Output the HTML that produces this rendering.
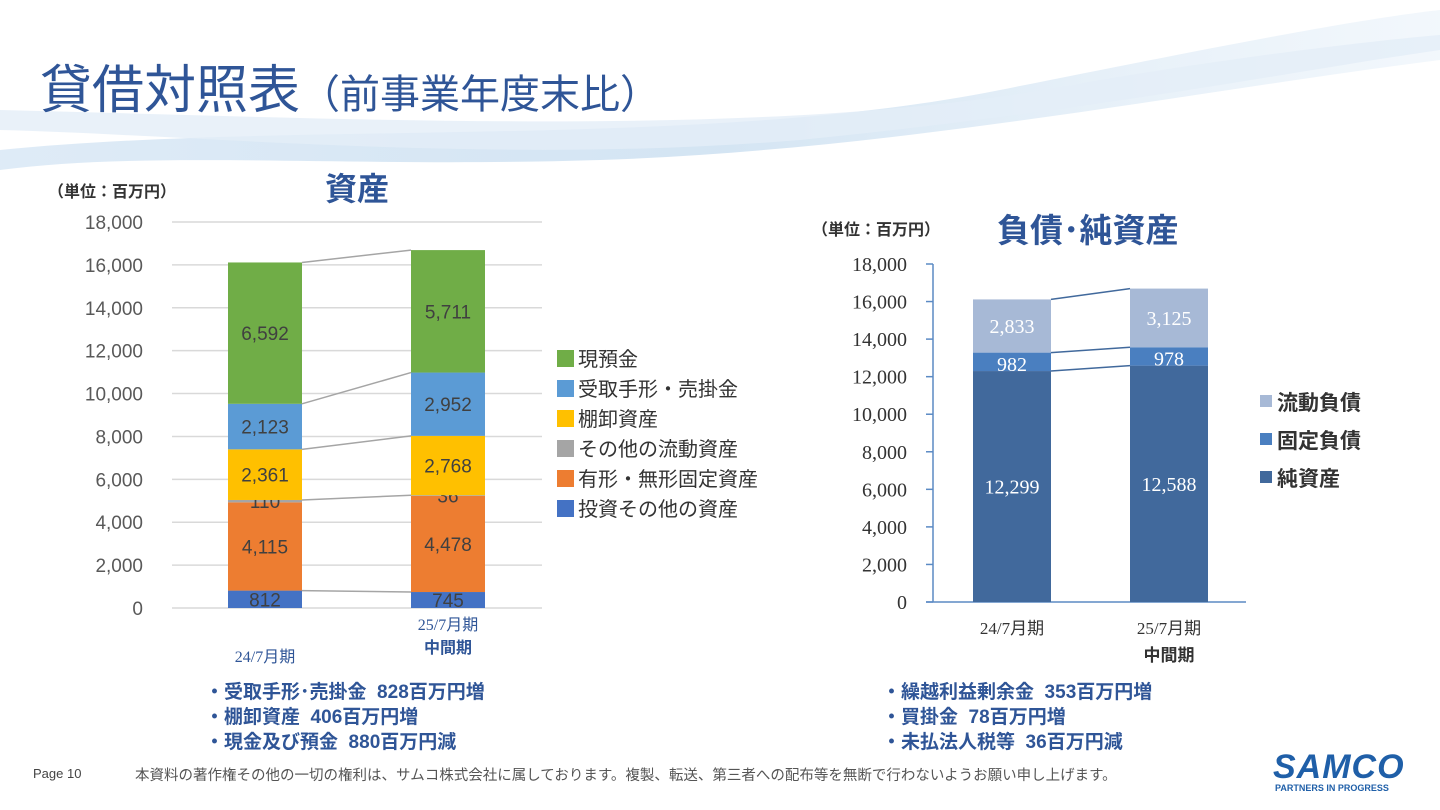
<!DOCTYPE html>
<html><head><meta charset="utf-8">
<style>
body{margin:0;width:1440px;height:810px;overflow:hidden;background:#fff;font-family:"Liberation Sans","Noto Sans CJK JP",sans-serif;position:relative}
.abs{position:absolute;white-space:nowrap}
.bul{color:#2f5597;font-weight:bold;font-size:19px;line-height:25px}
</style></head><body>
<svg class="abs" style="left:0;top:0" width="1440" height="180">
<defs><linearGradient id="sw" x1="0" y1="0" x2="1" y2="0"><stop offset="0" stop-color="#dbe9f6" stop-opacity="0.9"/><stop offset="0.5" stop-color="#c9def0" stop-opacity="0.8"/><stop offset="1" stop-color="#e6f0f9" stop-opacity="0.5"/></linearGradient></defs>
<path d="M0,150 C300,120 700,150 1000,90 C1200,50 1350,20 1440,10 L1440,60 C1200,90 900,150 600,160 C350,168 150,150 0,170 Z" fill="url(#sw)"/>
<path d="M0,110 C400,120 800,140 1100,80 C1250,55 1380,40 1440,35 L1440,50 C1300,70 1100,110 800,140 C500,165 200,135 0,130 Z" fill="#e3eef8" opacity="0.8"/>
</svg>
<div class="abs" style="left:40px;top:48px;font-size:52px;color:#2f5597">貸借対照表<span style="font-size:40px">（前事業年度末比）</span></div>
<svg id="ch" class="abs" style="left:0;top:0" width="1440" height="810"></svg>
<div class="abs bul" style="left:205px;top:680px">・受取手形･売掛金&nbsp; 828百万円増<br>・棚卸資産&nbsp; 406百万円増<br>・現金及び預金&nbsp; 880百万円減</div>
<div class="abs bul" style="left:882px;top:680px">・繰越利益剰余金&nbsp; 353百万円増<br>・買掛金&nbsp; 78百万円増<br>・未払法人税等&nbsp; 36百万円減</div>
<div class="abs" style="left:33px;top:766px;font-size:13px;color:#444">Page 10</div>
<div class="abs" style="left:135px;top:764px;font-size:14.5px;color:#555">本資料の著作権その他の一切の権利は、サムコ株式会社に属しております。複製、転送、第三者への配布等を無断で行わないようお願い申し上げます。</div>
<div class="abs" style="left:1273px;top:748px;font-size:34px;font-weight:bold;font-style:italic;color:#1f5fa8;letter-spacing:1px">SAMCO</div>
<div class="abs" style="left:1275px;top:783px;font-size:9px;font-weight:bold;color:#1f5fa8">PARTNERS IN PROGRESS</div>
<script>
const NS="http://www.w3.org/2000/svg";
const svg=document.getElementById('ch');
const leftCats=["24/7月期","25/7月期"];
const leftSeries=["投資その他の資産","有形・無形固定資産","その他の流動資産","棚卸資産","受取手形・売掛金","現預金"];
const leftColors=["#4472c4","#ed7d31","#a5a5a5","#ffc000","#5b9bd5","#70ad47"];
const leftP1=[812,4115,110,2361,2123,6592];
const leftP2=[745,4478,36,2768,2952,5711];
const rightSeries=["純資産","固定負債","流動負債"];
const rightColors=["#41699c","#4a7fc0","#a7b9d6"];
const rightP1=[12299,982,2833];
const rightP2=[12588,978,3125];
const ticks=[0,2000,4000,6000,8000,10000,12000,14000,16000,18000];
function el(t,a,txt){const e=document.createElementNS(NS,t);for(const k in a)e.setAttribute(k,a[k]);if(txt!==undefined)e.textContent=txt;svg.appendChild(e);return e;}
const fmt=v=>v.toLocaleString('en-US');
const LY=v=>608-v*(608-222)/18000;
ticks.forEach(t=>{
 const g=el('line',{x1:172,x2:542,y1:LY(t),y2:LY(t),stroke:'#d9d9d9','stroke-width':1.5});
 
 const l=el('text',{x:143,y:LY(t)+7,'text-anchor':'end','font-size':19,fill:'#595959'},fmt(t));
 
});
const lbx=[228,411],lbw=74;
[leftP1,leftP2].forEach((vals,i)=>{
 let c=0;
 vals.forEach((v,s)=>{
  const r=el('rect',{x:lbx[i],y:LY(c+v),width:lbw,height:LY(c)-LY(c+v),fill:leftColors[s]});
  
  const t=el('text',{x:lbx[i]+lbw/2,y:(LY(c)+LY(c+v))/2+7,'text-anchor':'middle','font-size':19,fill:'#404040'},fmt(v));
  
  c+=v;
 });
});
let c1=0,c2=0;
leftP1.forEach((v,s)=>{c1+=v;c2+=leftP2[s];
 if(s!==1){const l=el('line',{x1:lbx[0]+lbw,y1:LY(c1),x2:lbx[1],y2:LY(c2),stroke:'#a5a5a5','stroke-width':1.5});
 }
});
let t1=el('text',{x:265,y:662,'text-anchor':'middle','font-size':16,fill:'#2f5597','font-family':'Liberation Serif,Noto Sans CJK JP,serif'},leftCats[0]);

let t2=el('text',{x:448,y:630,'text-anchor':'middle','font-size':16,fill:'#2f5597','font-family':'Liberation Serif,Noto Sans CJK JP,serif'},leftCats[1]);

let t3=el('text',{x:448,y:653,'text-anchor':'middle','font-size':16,fill:'#2f5597','font-weight':'bold'},"中間期");

leftSeries.slice().reverse().forEach((n,k)=>{
 const s=leftSeries.length-1-k,y=350+k*30;
 const r=el('rect',{x:557,y:y,width:17,height:17,fill:leftColors[s]});
 
 const t=el('text',{x:578,y:y+16,'font-size':20,fill:'#333'},n);
 
});
let u1=el('text',{x:48,y:197,'font-size':16,fill:'#333','font-weight':'bold'},"（単位：百万円）");

let h1=el('text',{x:325,y:200,'font-size':32,fill:'#2f5597','font-weight':'bold'},"資産");

const RY=v=>602-v*(602-264)/18000;
let ax=el('line',{x1:933,x2:933,y1:264,y2:602,stroke:'#5b8ac4','stroke-width':1.5});

let bx=el('line',{x1:926,x2:1246,y1:602,y2:602,stroke:'#5b8ac4','stroke-width':1.5});

ticks.forEach(t=>{
 const g=el('line',{x1:926,x2:933,y1:RY(t),y2:RY(t),stroke:'#5b8ac4','stroke-width':1.5});
 
 const l=el('text',{x:907,y:RY(t)+7,'text-anchor':'end','font-size':20,fill:'#333','font-family':'Liberation Serif,serif'},fmt(t));
 
});
const rbx=[973,1130],rbw=78;
[rightP1,rightP2].forEach((vals,i)=>{
 let c=0;
 vals.forEach((v,s)=>{
  const r=el('rect',{x:rbx[i],y:RY(c+v),width:rbw,height:RY(c)-RY(c+v),fill:rightColors[s]});
  
  const t=el('text',{x:rbx[i]+rbw/2,y:(RY(c)+RY(c+v))/2+(s===1?9:7),'text-anchor':'middle','font-size':20,fill:'#fff','font-family':'Liberation Serif,serif'},fmt(v));
  
  c+=v;
 });
});
c1=0;c2=0;
rightP1.forEach((v,s)=>{c1+=v;c2+=rightP2[s];
 const l=el('line',{x1:rbx[0]+rbw,y1:RY(c1),x2:rbx[1],y2:RY(c2),stroke:'#41699c','stroke-width':1.5});
 
});
let r1=el('text',{x:1012,y:634,'text-anchor':'middle','font-size':17,fill:'#333','font-family':'Liberation Serif,Noto Sans CJK JP,serif'},"24/7月期");

let r2=el('text',{x:1169,y:634,'text-anchor':'middle','font-size':17,fill:'#333','font-family':'Liberation Serif,Noto Sans CJK JP,serif'},"25/7月期");

let r3=el('text',{x:1169,y:661,'text-anchor':'middle','font-size':17,fill:'#333','font-weight':'bold'},"中間期");

rightSeries.slice().reverse().forEach((n,k)=>{
 const s=rightSeries.length-1-k,y=395+k*38;
 const r=el('rect',{x:1260,y:y,width:12,height:12,fill:rightColors[s]});
 
 const t=el('text',{x:1277,y:y+15,'font-size':21,fill:'#333','font-weight':'bold'},n);
 
});
let u2=el('text',{x:812,y:235,'font-size':16,fill:'#333','font-weight':'bold'},"（単位：百万円）");

let h2=el('text',{x:997,y:242,'font-size':33,fill:'#2f5597','font-weight':'bold'},"負債･純資産");

</script>
</body></html>
